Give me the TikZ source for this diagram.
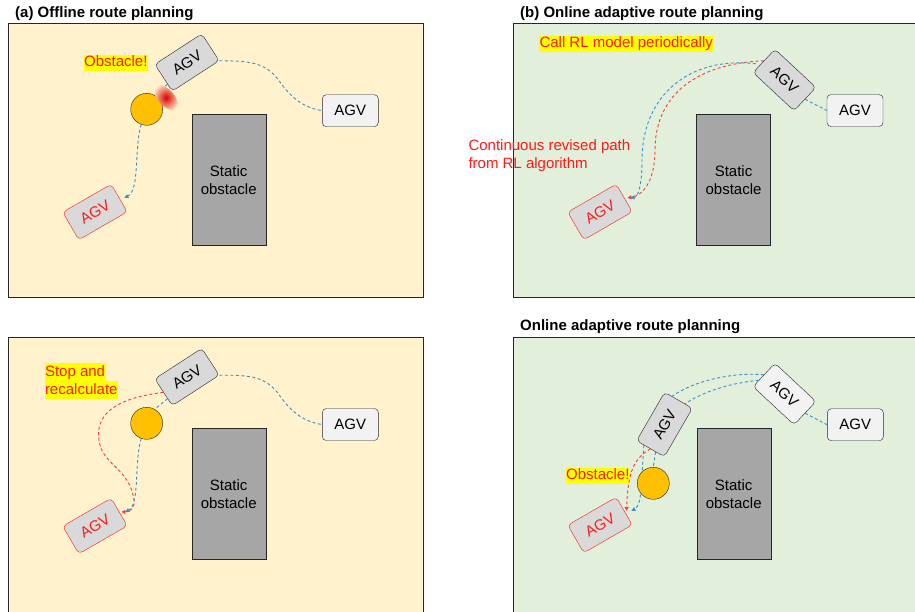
\documentclass[tikz,border=0pt]{standalone}
\usepackage{fontspec}
\setmainfont{Liberation Sans}
\usetikzlibrary{arrows.meta}
\definecolor{bgyellow}{HTML}{FFF2CC}
\definecolor{bggreen}{HTML}{E2EFDA}
\definecolor{agvgray}{HTML}{D9D9D9}
\definecolor{agvlight}{HTML}{F2F2F2}
\definecolor{obstgray}{HTML}{A6A6A6}
\definecolor{ballorange}{HTML}{FFC000}
\definecolor{hlyellow}{HTML}{FFFF00}
\definecolor{pathblue}{HTML}{3A8FCF}
\definecolor{pathred}{HTML}{FF3B3B}
\definecolor{txtred}{HTML}{FF1A1A}
\definecolor{edge}{HTML}{262626}
\newcommand{\hilite}[1]{{\setlength{\fboxsep}{0.5pt}\colorbox{hlyellow}{\rule[-4pt]{0pt}{17pt}#1}}}
\tikzset{
  panel/.style={draw=edge,line width=1pt},
  paneltitle/.style={anchor=base west,inner sep=0pt,font=\fontsize{15}{18}\selectfont\bfseries},
  agv/.style={draw=edge,fill=agvgray,rounded corners=4pt,minimum width=56pt,minimum height=32pt,inner sep=0pt},
  agvw/.style={agv,fill=agvlight},
  agvr/.style={agv,draw=txtred,text=txtred},
  block/.style={draw=edge,fill=obstgray,minimum width=74pt,minimum height=131pt,align=center},
  ball/.style={circle,draw=edge,fill=ballorange,minimum size=32pt,inner sep=0pt},
  note/.style={fill=hlyellow,text=txtred,inner sep=0.5pt,text height=11pt,text depth=3.5pt},
  bluepath/.style={draw=pathblue,line width=0.9pt,dash pattern=on 3pt off 2.5pt},
  redpath/.style={bluepath,draw=pathred},
  headto/.style={-{Triangle[length=4pt,width=4pt]}},
}
\begin{document}
\begin{tikzpicture}[x=1pt,y=-1pt,font=\fontsize{15}{18}\selectfont]
\useasboundingbox (0,0) rectangle (915,611);
\clip (0,0) rectangle (915,611);
% panels
\draw[panel,fill=bgyellow] (8,23) rectangle (423,297);
\draw[panel,fill=bggreen] (513,23) rectangle (925,297);
\draw[panel,fill=bgyellow] (8,337) rectangle (423,620);
\draw[panel,fill=bggreen] (513,337) rectangle (925,620);
\node[paneltitle] (ta) at (15,17.5) {(a) Offline route planning};
\node[paneltitle] (tb) at (520,17.5) {(b) Online adaptive route planning};
\node[paneltitle] (td) at (520,330) {Online adaptive route planning};
% (a) offline, obstacle hit
\node[block] (a_obs) at (228.7,179.7) {Static\\obstacle};
\node[ball] (a_ball) at (146.7,109.3) {};
\node[agv,rotate=33] (a_agv) at (187,62.5) {AGV};
\node[agvw] (a_agvw) at (350.3,110.7) {AGV};
\node[agvr,rotate=30] (a_agvr) at (95,212) {AGV};
\node[note] (a_note) at (115.8,62.8) {Obstacle!};
\draw[bluepath] (a_agv.south east) .. controls (250,61) and (266,62) .. (280,82)
	.. controls (292,99) and (305,108) .. (a_agvw.west);
\draw[bluepath] (a_agv.195) -- (a_ball.60);
\draw[bluepath,headto] (a_ball.250) .. controls (134,148) and (140,190) .. ([xshift=5pt]a_agvr.east);
\begin{scope}[shift={(166,97.5)},rotate=-48] % collision
\shade[inner color=red!85!black,outer color=bgyellow] (0,0) ellipse [x radius=16pt,y radius=8pt];
\end{scope}
% (b) online
\node[block] (b_obs) at (733.5,179.7) {Static\\obstacle};
\node[agv,rotate=-43] (b_agv) at (784.5,80) {AGV};
\node[agvw] (b_agvw) at (855,110.5) {AGV};
\node[agvr,rotate=30] (b_agvr) at (600,212) {AGV};
\node[note] (b_note) at (626.2,44.2) {Call RL model periodically};
\node[anchor=west,inner sep=0pt,align=left,text=txtred] (b_text) at (468.3,155.8)
	{Continuous revised path\\from RL algorithm};
\draw[bluepath] (b_agv.east) -- (b_agvw.west);
\draw[bluepath,headto] ([shift={(-8,3)}]b_agv.west) .. controls (690,56) and (642,95) .. (642,160)
	.. controls (642,186) and (638,197) .. ([xshift=6pt]b_agvr.east);
\draw[redpath,headto] (b_agv.west) .. controls (690,64) and (655,100) .. (655,150)
	.. controls (655,178) and (645,195) .. ([xshift=3pt]b_agvr.east);
% (c) offline, stop
\node[block] (c_obs) at (228.7,493.8) {Static\\obstacle};
\node[ball] (c_ball) at (146.7,423.3) {};
\node[agv,rotate=33] (c_agv) at (187,377) {AGV};
\node[agvw] (c_agvw) at (350.3,424.5) {AGV};
\node[agvr,rotate=30] (c_agvr) at (95,526) {AGV};
\node[anchor=west,inner sep=0pt,align=left,text=txtred] (c_note) at (44.3,381.3)
	{\hilite{Stop and}\\\hilite{recalculate}};
\draw[bluepath] (c_agv.south east) .. controls (250,375) and (266,376) .. (280,396)
	.. controls (292,413) and (305,422) .. (c_agvw.west);
\draw[bluepath] (c_agv.195) -- (c_ball.60);
\draw[bluepath,headto] (c_ball.250) .. controls (134,462) and (140,504) .. ([xshift=6pt]c_agvr.east);
\draw[redpath,headto] (c_agv.west) .. controls (100,400) and (95,425) .. (100,445)
	.. controls (105,465) and (130,470) .. (134,500)
	.. controls (135,508) and (130,512) .. ([xshift=2pt]c_agvr.east);
% (d) online, obstacle
\node[block] (d_obs) at (733.7,493.8) {Static\\obstacle};
\node[agvw] (d_agvw) at (855.3,424.7) {AGV};
\node[agvw,rotate=-43] (d_agvl) at (784.5,394) {AGV};
\node[agv,rotate=60] (d_agv) at (664.5,424.5) {AGV};
\node[agvr,rotate=30] (d_agvr) at (600,525) {AGV};
\node[note] (d_note) at (597.8,475.8) {Obstacle!};
\draw[bluepath] (d_agvl.east) -- (d_agvw.west);
\draw[bluepath] (d_agvl.west) .. controls (735,372) and (695,380) .. (d_agv.15);
\draw[bluepath] (d_agvl.195) .. controls (730,383) and (702,392) .. (d_agv.-15);
\draw[bluepath,headto] (d_agv.165) .. controls (641,485) and (642,505) .. ([xshift=7pt]d_agvr.east);
\node[ball] (d_ball) at (653.3,483.3) {};
\draw[bluepath] (d_agv.192) -- (d_ball.north);
\draw[redpath,headto] (d_agv.west) .. controls (630,460) and (628,480) .. ([xshift=2pt]d_agvr.east);
\end{tikzpicture}
\end{document}
